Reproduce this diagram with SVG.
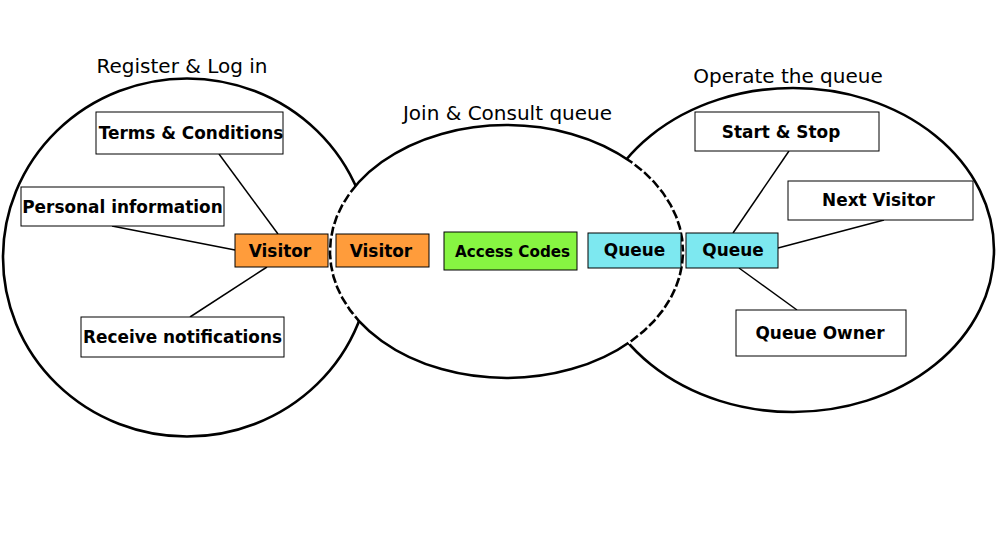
<svg xmlns="http://www.w3.org/2000/svg" width="1000" height="550" viewBox="0 0 1000 550">
<style>
.ring{fill:#fff;stroke:#000;stroke-width:2.6}
.box{stroke:#000;stroke-width:1}
.w{fill:#fff}
.o{fill:#FF9C3B}
.g{fill:#87F542}
.c{fill:#7DE8F0}
.lbl{font-family:"DejaVu Sans",Verdana,sans-serif;font-weight:bold;font-size:16.9px;text-anchor:middle;fill:#000}
.sm{font-size:15.2px}
.title{font-family:"DejaVu Sans",Verdana,sans-serif;font-size:20px;text-anchor:middle;fill:#000}
.conn line{stroke:#000;stroke-width:1.5}
</style>
<defs>
<clipPath id="outer">
<ellipse cx="187" cy="257.5" rx="184" ry="179"/>
<ellipse cx="793" cy="250" rx="201" ry="162"/>
</clipPath>
</defs>
<rect width="1000" height="550" fill="#fff"/>
<g id="areas">
<ellipse class="ring" cx="187" cy="257.5" rx="184" ry="179"/>
<ellipse class="ring" cx="793" cy="250" rx="201" ry="162"/>
<ellipse class="ring" cx="506.5" cy="251.5" rx="176.5" ry="126.5"/>
<ellipse cx="506.5" cy="251.5" rx="176.5" ry="126.5" fill="none" stroke="#fff" stroke-width="3.6" stroke-dasharray="3 9" clip-path="url(#outer)"/>
</g>
<g id="titles">
<text class="title" x="182" y="73">Register &amp; Log in</text>
<text class="title" x="507.5" y="120">Join &amp; Consult queue</text>
<text class="title" x="788" y="83">Operate the queue</text>
</g>
<g class="conn" id="connectors">
<line x1="219" y1="154" x2="278" y2="234"/>
<line x1="112" y1="226" x2="235" y2="250"/>
<line x1="190" y1="317" x2="267" y2="267"/>
<line x1="789" y1="151" x2="733" y2="233"/>
<line x1="884" y1="220" x2="778" y2="248"/>
<line x1="797" y1="310" x2="739" y2="268"/>
</g>
<g id="terms"><rect class="box w" x="96" y="112" width="187" height="42"/><text class="lbl" x="191" y="139">Terms &amp; Conditions</text></g>
<g id="personal"><rect class="box w" x="21" y="187" width="203" height="39"/><text class="lbl" x="122.5" y="213">Personal information</text></g>
<g id="visitor1"><rect class="box o" x="235" y="234" width="93" height="33"/><text class="lbl" x="280" y="257">Visitor</text></g>
<g id="receive"><rect class="box w" x="81" y="317" width="203" height="40"/><text class="lbl" x="182.5" y="343">Receive notifications</text></g>
<g id="visitor2"><rect class="box o" x="336" y="234" width="93" height="33"/><text class="lbl" x="381" y="257">Visitor</text></g>
<g id="access"><rect class="box g" x="444" y="232" width="133" height="38"/><text class="lbl sm" x="512.5" y="257">Access Codes</text></g>
<g id="queue1"><rect class="box c" x="588" y="233" width="93" height="35"/><text class="lbl" x="634.5" y="256">Queue</text></g>
<g id="queue2"><rect class="box c" x="686" y="233" width="92" height="35"/><text class="lbl" x="733" y="256">Queue</text></g>
<g id="startstop"><rect class="box w" x="695" y="112" width="184" height="39"/><text class="lbl" x="781" y="138">Start &amp; Stop</text></g>
<g id="nextvisitor"><rect class="box w" x="788" y="181" width="185" height="39"/><text class="lbl" x="878.5" y="206">Next Visitor</text></g>
<g id="owner"><rect class="box w" x="736" y="310" width="170" height="46"/><text class="lbl" x="820" y="339">Queue Owner</text></g>
</svg>
